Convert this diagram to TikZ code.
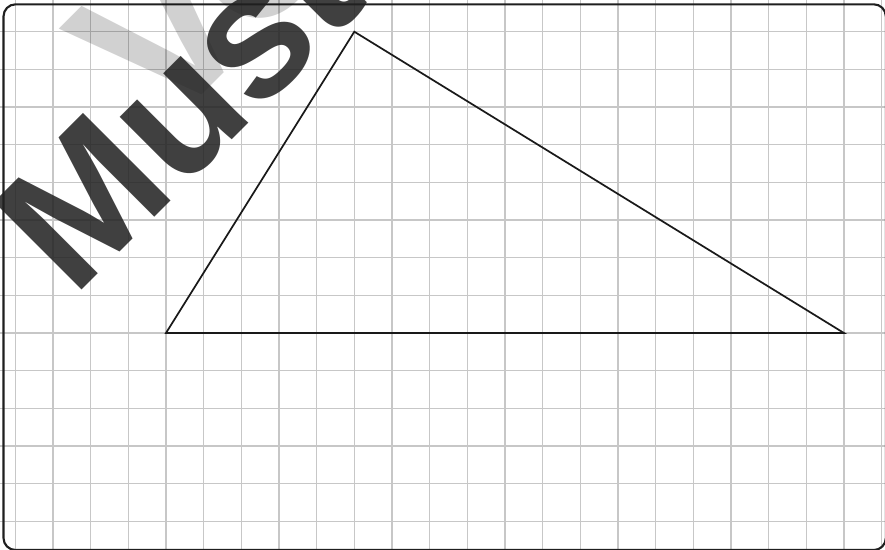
\documentclass[tikz,border=0pt]{standalone}
\usepackage{fontspec}
\newfontfamily\stampfont{Liberation Sans}

\begin{document}
\begin{tikzpicture}[
      gridline/.style={draw=black!22, line width=0.9pt},
      edge/.style={draw=black!90, line width=1.3pt, line join=miter},
      frame/.style={draw=black!88, line width=1.6pt, rounded corners=0.32cm},
      stamp/.style={inner sep=0pt, anchor=base west, rotate=45, font=\stampfont\bfseries}
    ]
    \useasboundingbox (-0.406,-13.733) rectangle (23.088,0.8415);
    \clip (-0.406,-13.733) rectangle (23.088,0.8415);

    % squared paper
    \draw[gridline] (-0.406,-13.733) grid (23.088,0.8415);

    % triangle
    \coordinate (A) at (4,-8);
    \coordinate (B) at (9,0);
    \coordinate (C) at (22,-8);
    \draw[edge] (A) -- (B) -- (C) -- cycle;

    % sheet border
    \draw[frame] (-0.313,-13.76) rectangle (23.11,0.727);

    % watermark
    \node[stamp, text=black, text opacity=0.18,
          font=\stampfont\bfseries\fontsize{162}{170}\selectfont] (vo) at (3.89,-2.74) {Vo};
    \node[stamp, text=black!87, text opacity=0.86,
          font=\stampfont\bfseries\fontsize{136}{140}\selectfont] (must) at (1.53,-7.10) {Must};
  \end{tikzpicture}
\end{document}
